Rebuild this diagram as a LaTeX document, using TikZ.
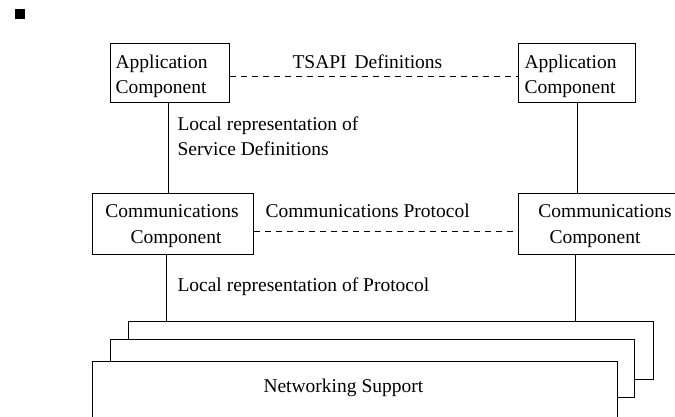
\documentclass[tikz,border=0pt]{standalone}
\usepackage{fontspec}
\setmainfont{Liberation Serif}
\begin{document}
\begin{tikzpicture}[x=1pt,y=-1pt, line width=1pt,
  box/.style={draw, rectangle, inner sep=0pt, anchor=north west},
  stackbox/.style={draw, fill=white, rectangle, inner sep=0pt, anchor=north west},
  lbl/.style={anchor=base west, inner sep=0pt, font=\fontsize{19.5}{25}\selectfont},
  clbl/.style={anchor=base, inner sep=0pt, font=\fontsize{19.5}{25}\selectfont},
  dashline/.style={dash pattern=on 6pt off 5pt}]
\useasboundingbox (0,0) rectangle (675,417);
\clip (0,0) rectangle (675,417);

% bullet
\node (bullet) [fill, rectangle, inner sep=0pt, minimum width=10pt, minimum height=10pt, anchor=north west] at (14,9) {};

% boxes
\node (appL)  [box, minimum width=119pt, minimum height=59pt] at (110,43) {};
\node (appR)  [box, minimum width=117pt, minimum height=59pt] at (518,43) {};
\node (commL) [box, minimum width=161pt, minimum height=61pt] at (92,193) {};
\node (commR) [box, minimum width=161pt, minimum height=61pt] at (518,193) {};

% stacked networking support
\node (net1) [stackbox, minimum width=525pt, minimum height=58pt] at (128,321) {};
\node (net2) [stackbox, minimum width=524pt, minimum height=58pt] at (110,339) {};
\node (net3) [stackbox, minimum width=525pt, minimum height=90pt] at (92,361) {};

% texts
\node (tA1) [lbl] at (115,69) {Application};
\node (tA2) [lbl] at (115,94) {Component};
\node (tB1) [lbl] at (524,69) {Application};
\node (tB2) [lbl] at (524,94) {Component};
\node (tTS) [lbl] at (292,69) {TSAPI\hspace{3pt} Definitions};
\node (tL1) [lbl] at (177,131) {Local representation of};
\node (tL2) [lbl] at (177,156) {Service Definitions};
\node (tC1) [clbl] at (172,217) {Communications};
\node (tC2) [clbl] at (176,243) {Component};
\node (tD1) [clbl] at (605,217) {Communications};
\node (tD2) [clbl] at (595,243) {Component};
\node (tCP) [lbl] at (265,217) {Communications Protocol};
\node (tLP) [lbl] at (177,291) {Local representation of Protocol};
\node (tNS) [lbl] at (263,392) {Networking Support};

% connectors
\draw ([xshift=-1.5pt]appL.south) -- ([xshift=-1.5pt]appL.south |- commL.north);
\draw ([xshift=0.5pt]appR.south) -- ([xshift=0.5pt]appR.south |- commR.north);
\draw ([xshift=-6.5pt]commL.south) -- ([xshift=-6.5pt]commL.south |- net1.north);
\draw ([xshift=-23.5pt]commR.south) -- ([xshift=-23.5pt]commR.south |- net1.north);
\draw[dashline] ([yshift=-3.5pt]appL.east) -- ([yshift=-3.5pt]appR.west);
\draw[dashline] ([yshift=-7.5pt]commL.east) -- ([yshift=-7.5pt]commR.west);
\end{tikzpicture}
\end{document}
